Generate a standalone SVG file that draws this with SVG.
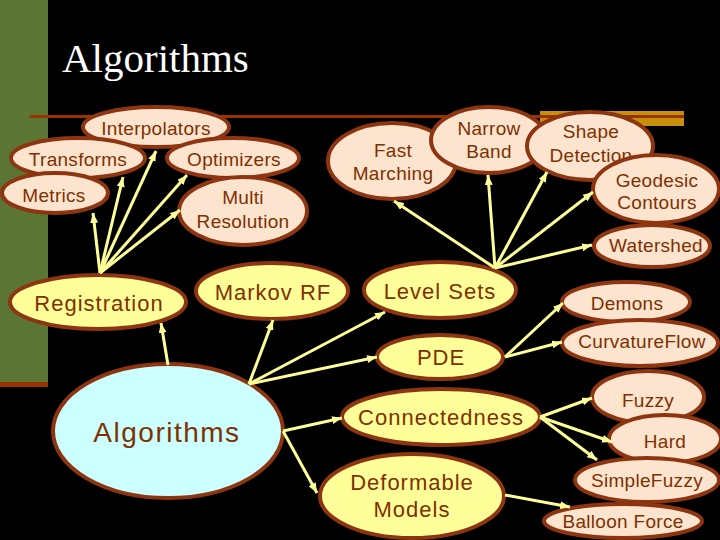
<svg xmlns="http://www.w3.org/2000/svg" width="720" height="540" viewBox="0 0 720 540">
<defs>
<style>
.n{stroke:#8c3510;stroke-width:4}
.p{fill:#fde4cf}
.y{fill:#ffff99}
.c{fill:#ccffff}
text{font-family:"Liberation Sans",Arial,sans-serif;fill:#7f3000;text-anchor:middle}
.s{font-size:19px;letter-spacing:0.3px}
.m{font-size:22px;letter-spacing:1px}
.e{stroke:#ffff99;stroke-width:3;fill:none;marker-end:url(#ah)}
</style>
<marker id="ah" viewBox="0 0 10 8" refX="10" refY="4" markerWidth="10" markerHeight="8" markerUnits="userSpaceOnUse" orient="auto">
<path d="M0,0 L10,4 L0,8 z" fill="#ffff99"/>
</marker>
</defs>
<rect width="720" height="540" fill="#000"/>
<rect x="0" y="0" width="48" height="382" fill="#5b7535"/>
<rect x="0" y="382" width="48" height="5" fill="#993300"/>
<rect x="540" y="111" width="144" height="15" fill="#c8900a"/>
<rect x="30" y="115" width="654" height="3" fill="#993300"/>
<text x="62" y="72" style="font-family:'Liberation Serif','Times New Roman',serif;font-size:41px;fill:#fff;text-anchor:start">Algorithms</text>

<g id="interpolators"><ellipse class="n p" cx="156" cy="127" rx="73" ry="20"/><text class="s" x="156" y="135">Interpolators</text></g>
<g id="transforms"><ellipse class="n p" cx="78" cy="158" rx="67" ry="20"/><text class="s" x="78" y="166">Transforms</text></g>
<g id="optimizers"><ellipse class="n p" cx="233" cy="158" rx="66" ry="20"/><text class="s" x="234" y="166">Optimizers</text></g>
<g id="metrics"><ellipse class="n p" cx="55" cy="193" rx="53" ry="20"/><text class="s" x="54" y="202">Metrics</text></g>
<g id="multiresolution"><ellipse class="n p" cx="243" cy="211" rx="64" ry="34"/><text class="s" x="243" y="204">Multi</text><text class="s" x="243" y="228">Resolution</text></g>

<g id="fastmarching"><ellipse class="n p" cx="392" cy="161" rx="64" ry="38"/><text class="s" x="393" y="157">Fast</text><text class="s" x="393" y="180">Marching</text></g>
<g id="narrowband"><ellipse class="n p" cx="489" cy="140" rx="58" ry="33"/><text class="s" x="489" y="135">Narrow</text><text class="s" x="489" y="158">Band</text></g>
<g id="shapedetection"><ellipse class="n p" cx="590" cy="146" rx="63" ry="34"/><text class="s" x="591" y="138">Shape</text><text class="s" x="591" y="162">Detection</text></g>
<g id="geodesic"><ellipse class="n p" cx="656" cy="189" rx="63" ry="34"/><text class="s" x="657" y="187">Geodesic</text><text class="s" x="657" y="209">Contours</text></g>
<g id="watershed"><ellipse class="n p" cx="652" cy="246" rx="58" ry="21"/><text class="s" x="656" y="252">Watershed</text></g>

<g id="registration"><ellipse class="n y" cx="98" cy="302" rx="88" ry="27"/><text class="m" x="99" y="311">Registration</text></g>
<g id="markovrf"><ellipse class="n y" cx="272" cy="291" rx="76" ry="28"/><text class="m" x="273" y="300">Markov RF</text></g>
<g id="levelsets"><ellipse class="n y" cx="440" cy="290" rx="76" ry="28"/><text class="m" x="440" y="299">Level Sets</text></g>
<g id="pde"><ellipse class="n y" cx="440" cy="357" rx="63" ry="22"/><text class="m" x="441" y="365">PDE</text></g>
<g id="connectedness"><ellipse class="n y" cx="441" cy="417" rx="99" ry="28"/><text class="m" x="441" y="425">Connectedness</text></g>
<g id="deformable"><ellipse class="n y" cx="412" cy="496" rx="92" ry="42"/><text class="m" x="412" y="490">Deformable</text><text class="m" x="412" y="517">Models</text></g>
<g id="algorithms"><ellipse class="n c" cx="168" cy="431" rx="115" ry="67"/><text x="167" y="442" style="font-size:28px;letter-spacing:1.5px">Algorithms</text></g>

<g id="demons"><ellipse class="n p" cx="626" cy="302" rx="64" ry="20"/><text class="s" x="627" y="310">Demons</text></g>
<g id="curvatureflow"><ellipse class="n p" cx="640" cy="343" rx="78" ry="23"/><text class="s" x="642" y="348">CurvatureFlow</text></g>
<g id="fuzzy"><ellipse class="n p" cx="648" cy="397" rx="56" ry="26"/><text class="s" x="648" y="407">Fuzzy</text></g>
<g id="hard"><ellipse class="n p" cx="665" cy="439" rx="56" ry="24"/><text class="s" x="665" y="448">Hard</text></g>
<g id="simplefuzzy"><ellipse class="n p" cx="647" cy="480" rx="72" ry="22"/><text class="s" x="647" y="487">SimpleFuzzy</text></g>
<g id="balloonforce"><ellipse class="n p" cx="623" cy="521" rx="79" ry="17"/><text class="s" x="623" y="528">Balloon Force</text></g>

<g id="connectors">
<line class="e" x1="100" y1="273" x2="93" y2="213"/>
<line class="e" x1="100" y1="273" x2="123" y2="177"/>
<line class="e" x1="100" y1="273" x2="156" y2="151"/>
<line class="e" x1="100" y1="273" x2="187" y2="175"/>
<line class="e" x1="100" y1="273" x2="180" y2="210"/>
<line class="e" x1="168" y1="365" x2="161" y2="323"/>
<line class="e" x1="249" y1="384" x2="273" y2="320"/>
<line class="e" x1="249" y1="384" x2="385" y2="312"/>
<line class="e" x1="249" y1="384" x2="377" y2="357"/>
<line class="e" x1="283" y1="431" x2="342" y2="418"/>
<line class="e" x1="283" y1="431" x2="317" y2="493"/>
<line class="e" x1="495" y1="268" x2="394" y2="201"/>
<line class="e" x1="495" y1="268" x2="488" y2="175"/>
<line class="e" x1="495" y1="268" x2="547" y2="172"/>
<line class="e" x1="495" y1="268" x2="593" y2="192"/>
<line class="e" x1="495" y1="268" x2="592" y2="245"/>
<line class="e" x1="505" y1="357" x2="563" y2="303"/>
<line class="e" x1="505" y1="357" x2="562" y2="342"/>
<line class="e" x1="540" y1="417" x2="592" y2="398"/>
<line class="e" x1="540" y1="417" x2="612" y2="442"/>
<line class="e" x1="540" y1="417" x2="597" y2="460"/>
<line class="e" x1="505" y1="495" x2="570" y2="507"/>
</g>
</svg>
